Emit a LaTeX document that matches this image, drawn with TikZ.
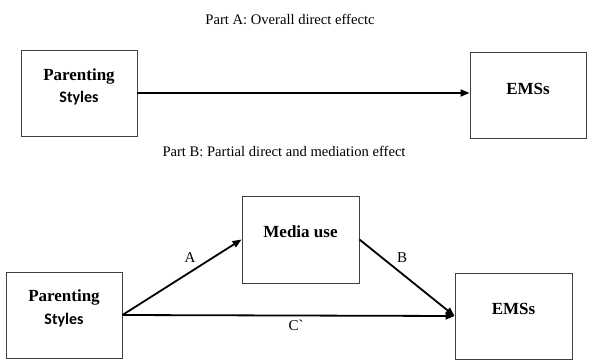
\documentclass[tikz,border=0pt]{standalone}
\usepackage{fontspec}
\setmainfont{Liberation Serif}
\newfontfamily\calfont{Carlito}
\newfontfamily\rawserif{Liberation Serif}[Ligatures=TeXOff]
\usetikzlibrary{arrows.meta}
\begin{document}
\begin{tikzpicture}[x=1pt,y=-1pt,
  boxnode/.style={draw=black!75,line width=0.9pt,rectangle,inner sep=0pt,minimum width=116pt,minimum height=86pt},
  titletext/.style={font=\fontsize{14.6}{16}\selectfont,inner sep=0pt},
  serifbold/.style={font=\fontsize{17}{19}\selectfont\bfseries,inner sep=0pt},
  sansbold/.style={font=\fontsize{16}{18}\calfont\bfseries,inner sep=0pt},
  lbl/.style={font=\fontsize{15}{17}\selectfont,inner sep=0pt},
  conn/.style={line width=1.8pt,-{Triangle[length=9pt,width=7pt]}}]
\useasboundingbox (0,0) rectangle (592,359);
% Part A
\node[titletext] (ta) at (290,19) {Part A: Overall direct effectc};
\node[boxnode] (pa) at (79,93) {};
\node[serifbold] (pat1) at (79,76) {Parenting};
\node[sansbold] (pat2) at (79,98) {Styles};
\node[boxnode] (ea) at (528,95) {};
\node[serifbold] (eat) at (528,89) {EMSs};
\draw[conn] (pa.east) -- (ea.west |- pa.east);
% Part B
\node[titletext] (tb) at (284,151) {Part B: Partial direct and mediation effect};
\node[boxnode] (pb) at (64,315) {};
\node[serifbold] (pbt1) at (64,297) {Parenting};
\node[sansbold] (pbt2) at (64,320) {Styles};
\node[boxnode,minimum width=117pt,minimum height=87pt] (mb) at (300.5,239.5) {};
\node[serifbold] (mbt) at (300.5,232) {Media use};
\node[boxnode,minimum width=117pt] (eb) at (513.5,316) {};
\node[serifbold] (ebt) at (513.5,309) {EMSs};
\draw[conn] (pb.east) -- (mb.west);
\draw[conn] (mb.east) -- (eb.west);
\draw[conn] (pb.east) -- (eb.west);
\node[lbl] (la) at (190,258) {A};
\node[lbl] (lb) at (402,258) {B};
\node[lbl,font=\fontsize{15}{17}\rawserif] (lc) at (296,325) {C`};
\end{tikzpicture}
\end{document}
